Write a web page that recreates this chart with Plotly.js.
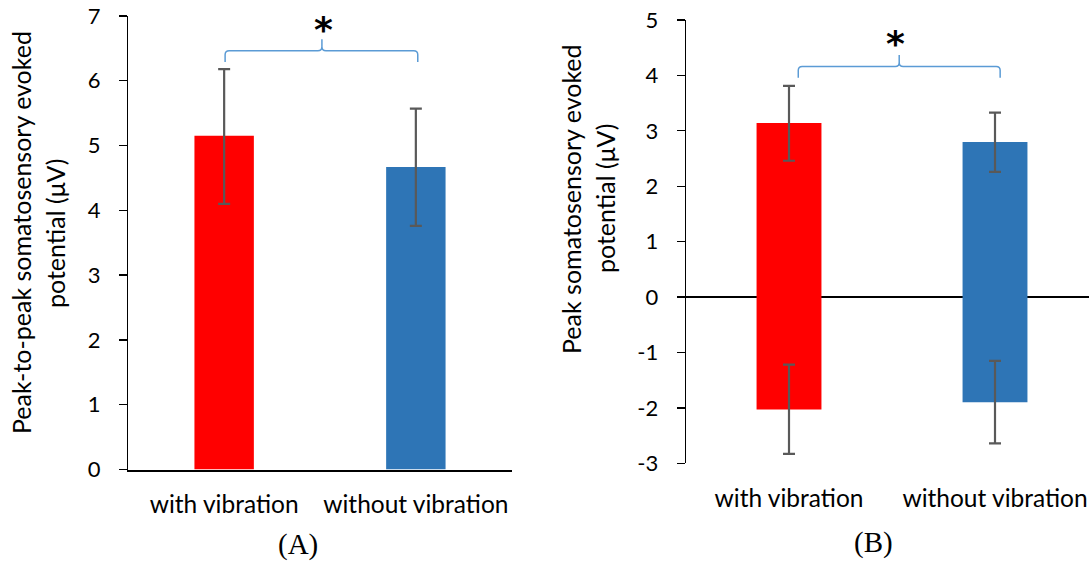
<!DOCTYPE html>
<html>
<head>
<meta charset="utf-8">
<script src="https://cdn.plot.ly/plotly-3.0.1.min.js"></script>
<style>html,body{margin:0;padding:0;background:#fff;}#chart{width:1089px;height:562px;}</style>
</head>
<body>
<div id="chart"></div>
<script>
// ---- data ----
const categories = ['with vibration', 'without vibration'];
const catPos = [0, 1];

// (A) peak-to-peak SEP
const aMean = [5.15, 4.67];
const aErrPlus = [1.03, 0.90];
const aErrMinus = [1.05, 0.91];

// (B) peak SEP: positive and negative peaks
const bPos = [3.14, 2.80];
const bPosErrPlus = [0.67, 0.53];
const bPosErrMinus = [0.68, 0.54];
const bNeg = [-2.03, -1.90];
const bNegErrPlus = [0.81, 0.75];
const bNegErrMinus = [0.80, 0.74];

// tick labels of panel (B) y axis (plain hyphen minus as in the original)
const bTickVals = [-3, -2, -1, 0, 1, 2, 3, 4, 5];
const bTickText = ['-3', '-2', '-1', '0', '1', '2', '3', '4', '5'];

const barColors = ['#FF0000', '#2E75B6'];
const errStyle = {color: '#595959', thickness: 2.2, width: 6};
const FONT = 'Lato, "Open Sans", sans-serif';

const W = 1089, H = 562;
const px = v => v / W;
const py = v => 1 - v / H;

function brace(x0, x1, xm, yLine, yEnd, yTip, rx, ry) {
  return `M ${x0},${yEnd} L ${x0},${yLine - ry} Q ${x0},${yLine} ${x0 + rx},${yLine} ` +
         `L ${xm - rx},${yLine} Q ${xm},${yLine} ${xm},${yLine + ry} L ${xm},${yTip} ` +
         `M ${xm},${yLine + ry} Q ${xm},${yLine} ${xm + rx},${yLine} ` +
         `L ${x1 - rx},${yLine} Q ${x1},${yLine} ${x1},${yLine - ry} L ${x1},${yEnd}`;
}

const traces = [
  {type: 'bar', x: catPos, y: aMean, xaxis: 'x', yaxis: 'y', width: 0.31,
   marker: {color: barColors},
   error_y: Object.assign({type: 'data', symmetric: false, array: aErrPlus, arrayminus: aErrMinus}, errStyle),
   hoverinfo: 'skip', showlegend: false},
  {type: 'bar', x: catPos, y: bPos, xaxis: 'x2', yaxis: 'y2', width: 0.315,
   marker: {color: barColors},
   error_y: Object.assign({type: 'data', symmetric: false, array: bPosErrPlus, arrayminus: bPosErrMinus}, errStyle),
   hoverinfo: 'skip', showlegend: false},
  {type: 'bar', x: catPos, y: bNeg, xaxis: 'x2', yaxis: 'y2', width: 0.315,
   marker: {color: barColors},
   error_y: Object.assign({type: 'data', symmetric: false, array: bNegErrPlus, arrayminus: bNegErrMinus}, errStyle),
   hoverinfo: 'skip', showlegend: false}
];

const tickFont = {family: FONT, size: 22, color: '#000'};
const catFont = {family: FONT, size: 24.5, color: '#000'};
const titleFont = {family: FONT, size: 25, color: '#000'};

const layout = {
  width: W, height: H,
  margin: {l: 0, r: 0, t: 0, b: 0},
  paper_bgcolor: '#fff', plot_bgcolor: 'rgba(0,0,0,0)',
  barmode: 'relative',
  showlegend: false,
  xaxis: {
    domain: [px(128.3), px(511.7)], range: [-0.5, 1.5],
    tickvals: catPos, ticktext: categories, tickfont: catFont,
    ticks: '', showgrid: false, zeroline: false,
    showline: true, linecolor: '#000', linewidth: 2,
    ticklabelstandoff: 12, anchor: 'y', fixedrange: true
  },
  yaxis: {
    domain: [1 - 469.5 / H, 1 - 16 / H], range: [0, 7], dtick: 1,
    tickfont: tickFont, ticks: 'outside', ticklen: 8, tickwidth: 1.3, tickcolor: '#000',
    showline: true, linecolor: '#000', linewidth: 1.3,
    showgrid: false, zeroline: false, ticklabelstandoff: 14, anchor: 'x', fixedrange: true
  },
  xaxis2: {
    domain: [px(686), 1], range: [-0.5, 1.5 - 9 / 206],
    tickvals: catPos, ticktext: categories, tickfont: catFont,
    ticks: '', showgrid: false, zeroline: false, showline: false,
    ticklabelstandoff: 18, anchor: 'y2', fixedrange: true
  },
  yaxis2: {
    domain: [1 - 463.3 / H, 1 - 20 / H], range: [-3, 5],
    tickvals: bTickVals, ticktext: bTickText,
    tickfont: tickFont, ticks: 'outside', ticklen: 8, tickwidth: 1.3, tickcolor: '#000',
    showline: true, linecolor: '#000', linewidth: 1.3,
    showgrid: false, zeroline: true, zerolinecolor: '#000', zerolinewidth: 2,
    ticklabelstandoff: 14, anchor: 'x2', fixedrange: true
  },
  shapes: [
    {type: 'path', xref: 'x', yref: 'y',
     path: brace(0.005, 1.01, 0.51, 6.464, 6.29, 6.64, 0.021, 0.062),
     line: {color: '#5B9BD5', width: 1.5}},
    {type: 'path', xref: 'x2', yref: 'y2',
     path: brace(0.045, 1.025, 0.535, 4.163, 3.96, 4.37, 0.019, 0.072),
     line: {color: '#5B9BD5', width: 1.5}}
  ],
  annotations: [
    {xref: 'x', yref: 'y', x: 0.518, y: 6.93, text: '*', showarrow: false,
     font: {family: '"DejaVu Sans"', size: 36, color: '#000', weight: 'bold'}, yshift: -9},
    {xref: 'x2', yref: 'y2', x: 0.518, y: 4.73, text: '*', showarrow: false,
     font: {family: '"DejaVu Sans"', size: 36, color: '#000', weight: 'bold'}, yshift: -9},
    {xref: 'paper', yref: 'paper', x: px(21), y: py(233), text: 'Peak-to-peak somatosensory evoked',
     textangle: -90, showarrow: false, xanchor: 'center', yanchor: 'middle', font: titleFont},
    {xref: 'paper', yref: 'paper', x: px(55), y: py(234), text: 'potential (μV)',
     textangle: -90, showarrow: false, xanchor: 'center', yanchor: 'middle', font: titleFont},
    {xref: 'paper', yref: 'paper', x: px(571), y: py(199), text: 'Peak somatosensory evoked',
     textangle: -90, showarrow: false, xanchor: 'center', yanchor: 'middle', font: titleFont},
    {xref: 'paper', yref: 'paper', x: px(605), y: py(199), text: 'potential (μV)',
     textangle: -90, showarrow: false, xanchor: 'center', yanchor: 'middle', font: titleFont},
    {xref: 'paper', yref: 'paper', x: px(298), y: py(544), text: '(A)', showarrow: false, borderpad: 0,
     xanchor: 'center', yanchor: 'middle', font: {family: '"Liberation Serif", serif', size: 29, color: '#000'}},
    {xref: 'paper', yref: 'paper', x: px(873), y: py(542), text: '(B)', showarrow: false, borderpad: 0,
     xanchor: 'center', yanchor: 'middle', font: {family: '"Liberation Serif", serif', size: 29, color: '#000'}}
  ]
};

Plotly.newPlot('chart', traces, layout, {displayModeBar: false, staticPlot: true});
</script>
</body>
</html>
